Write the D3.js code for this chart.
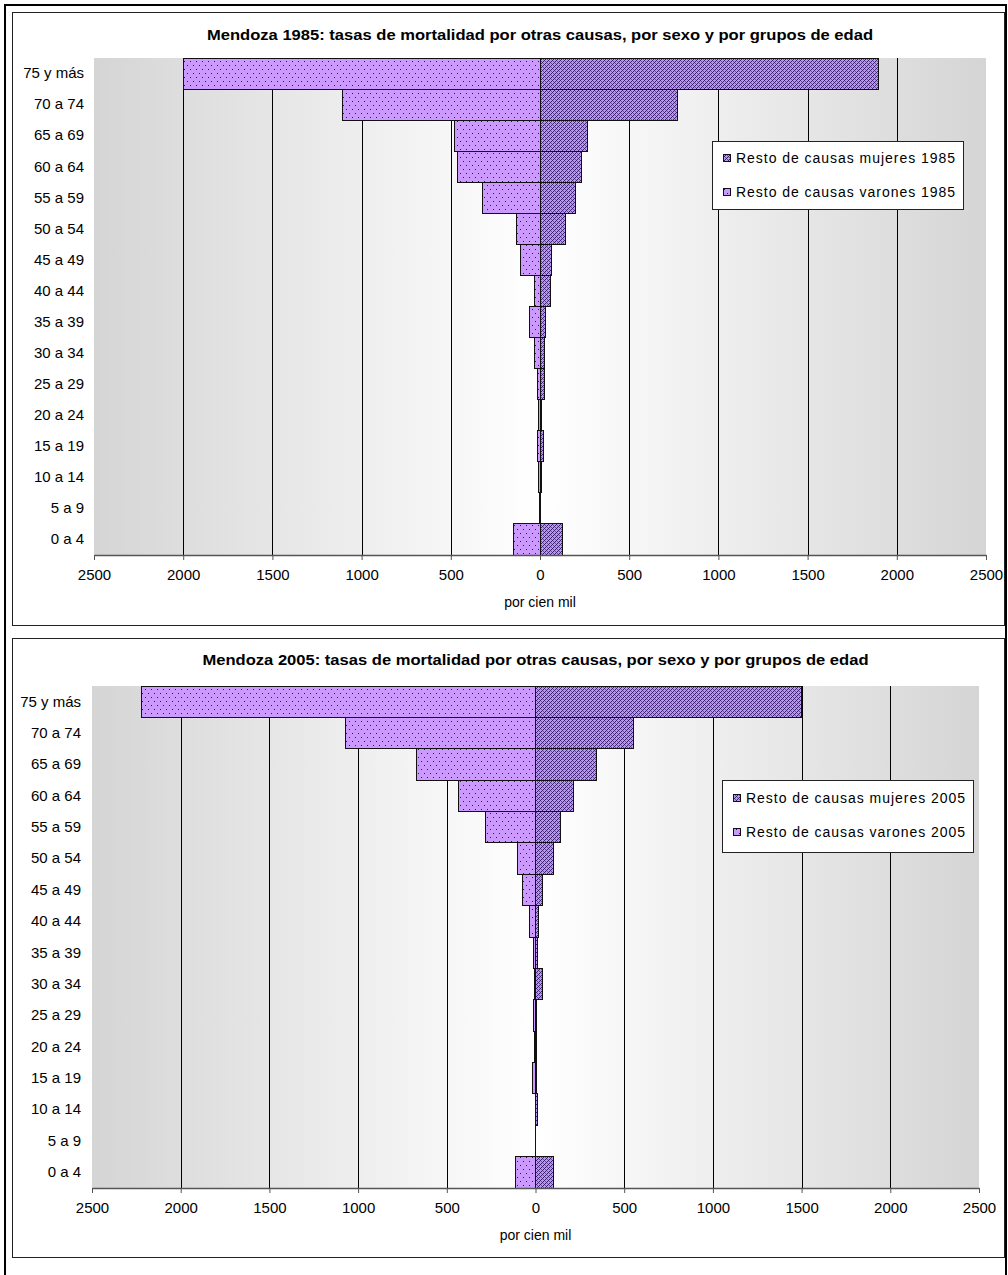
<!DOCTYPE html>
<html><head><meta charset="utf-8">
<script src="https://cdn.jsdelivr.net/npm/d3@7"></script>
<style>body{margin:0;background:#fff;} svg{display:block;}</style>
</head><body>
<script>
// ---------- DATA ----------
const ageGroups = ["75 y más","70 a 74","65 a 69","60 a 64","55 a 59","50 a 54","45 a 49","40 a 44",
                   "35 a 39","30 a 34","25 a 29","20 a 24","15 a 19","10 a 14","5 a 9","0 a 4"];
const varones1985 = [2000,1105,480,465,320,131,109,33,61,29,14,6,16,6,2,149];
const mujeres1985 = [1895,770,265,230,200,145,64,59,31,27,23,6,21,6,2,126];
const varones2005 = [2220,1070,670,435,280,102,75,34,9,5,12,3,15,2,2,115];
const mujeres2005 = [1500,550,345,213,139,101,41,15,12,38,8,3,3,10,2,100];
const tickValues = [-2500,-2000,-1500,-1000,-500,0,500,1000,1500,2000,2500];
const titles = ["Mendoza 1985: tasas de mortalidad por otras causas, por sexo y por grupos de edad",
                "Mendoza 2005: tasas de mortalidad por otras causas, por sexo y por grupos de edad"];
const legendMujeres = ["Resto de causas mujeres 1985","Resto de causas mujeres 2005"];
const legendVarones = ["Resto de causas varones 1985","Resto de causas varones 2005"];
const axisTitle = "por cien mil";

// ---------- SETUP ----------
const W = 1008, H = 1275;
const FONT = "'Liberation Sans', Arial, sans-serif";
const svg = d3.select("body").append("svg").attr("width", W).attr("height", H);
const defs = svg.append("defs");

const grad = defs.append("linearGradient").attr("id","bgGrad").attr("x1","0%").attr("x2","100%").attr("y1","0%").attr("y2","0%");
grad.append("stop").attr("offset","0%").attr("stop-color","#d5d5d5");
grad.append("stop").attr("offset","50%").attr("stop-color","#ffffff");
grad.append("stop").attr("offset","100%").attr("stop-color","#d5d5d5");

// dotted pattern (varones)
const pDot = defs.append("pattern").attr("id","patDot").attr("patternUnits","userSpaceOnUse").attr("width",6).attr("height",8);
pDot.append("rect").attr("width",6).attr("height",8).attr("fill","#cc99ff");
pDot.append("rect").attr("x",1).attr("y",1).attr("width",1).attr("height",1).attr("fill","#2a1a40");
pDot.append("rect").attr("x",4).attr("y",5).attr("width",1).attr("height",1).attr("fill","#2a1a40");

// crosshatch pattern (mujeres)
const pX = defs.append("pattern").attr("id","patX").attr("patternUnits","userSpaceOnUse").attr("width",4).attr("height",4);
pX.append("rect").attr("width",4).attr("height",4).attr("fill","#b995f5");
[[0,0],[2,2],[1,1],[3,3],[3,1],[1,3]].forEach(([a,b]) => {
  pX.append("rect").attr("x",a).attr("y",b).attr("width",1).attr("height",1).attr("fill", (a+b)%4===0 ? "#3a2266" : "#6a4aa0");
});

// outer frame
svg.append("path").attr("d","M5,1275 L5,5 L1006,5 L1006,1275").attr("fill","none").attr("stroke","#000").attr("stroke-width",2);

function drawChart(cfg, varones, mujeres, title, legM, legV) {
  const g = svg.append("g");
  g.append("rect").attr("x",cfg.box[0]+0.5).attr("y",cfg.box[1]+0.5)
    .attr("width",cfg.box[2]-cfg.box[0]).attr("height",cfg.box[3]-cfg.box[1])
    .attr("fill","#fff").attr("stroke","#222").attr("stroke-width",1);

  const x = d3.scaleLinear().domain([-2500,2500]).range([cfg.x0,cfg.x1]);
  const y = d3.scaleBand().domain(ageGroups).range([cfg.y0,cfg.y1]).padding(0);

  g.append("rect").attr("x",cfg.x0).attr("y",cfg.y0).attr("width",cfg.x1-cfg.x0).attr("height",cfg.y1-cfg.y0)
    .attr("fill","url(#bgGrad)");

  g.append("g").selectAll("line").data(tickValues.filter(v => Math.abs(v) !== 2500 && v !== 0)).join("line")
    .attr("x1", d => Math.round(x(d))+0.5).attr("x2", d => Math.round(x(d))+0.5)
    .attr("y1", cfg.y0).attr("y2", cfg.y1).attr("stroke","#000").attr("stroke-width",1);

  const rows = ageGroups.map((a,i) => ({age:a, v:varones[i], m:mujeres[i]}));
  const bars = g.append("g").attr("shape-rendering","crispEdges");
  bars.selectAll("rect.v").data(rows).join("rect").attr("class","v")
    .attr("x", d => x(-d.v)).attr("width", d => x(0)-x(-d.v))
    .attr("y", d => y(d.age)).attr("height", y.bandwidth())
    .attr("fill","url(#patDot)").attr("stroke","#111").attr("stroke-width",1);
  bars.selectAll("rect.m").data(rows).join("rect").attr("class","m")
    .attr("x", x(0)).attr("width", d => x(d.m)-x(0))
    .attr("y", d => y(d.age)).attr("height", y.bandwidth())
    .attr("fill","url(#patX)").attr("stroke","#111").attr("stroke-width",1);

  const ax = g.append("g").attr("transform",`translate(0,${cfg.y1})`)
    .call(d3.axisBottom(x).tickValues(tickValues).tickSize(5).tickSizeOuter(0).tickPadding(9).tickFormat(d => Math.abs(d)));
  ax.select(".domain").attr("stroke","#555").attr("stroke-width",1.5);
  ax.selectAll(".tick line").attr("stroke","#555");
  ax.selectAll("text").attr("font-family",FONT).attr("font-size",15).attr("fill","#000");

  const ay = g.append("g").attr("transform",`translate(${cfg.x0},0)`)
    .call(d3.axisLeft(y).tickSize(0).tickPadding(cfg.labelPad));
  ay.select(".domain").remove();
  ay.selectAll("text").attr("font-family",FONT).attr("font-size",15).attr("fill","#000");

  g.append("text").attr("x",(cfg.x0+cfg.x1)/2).attr("y",cfg.titleY).attr("text-anchor","middle")
    .attr("dominant-baseline","central").attr("font-family",FONT).attr("font-weight","bold").attr("font-size",15)
    .attr("textLength",666).attr("lengthAdjust","spacingAndGlyphs").text(title);

  g.append("text").attr("x",(cfg.x0+cfg.x1)/2).attr("y",cfg.y1+47).attr("text-anchor","middle")
    .attr("dominant-baseline","central").attr("font-family",FONT).attr("font-size",14).text(axisTitle);

  const L = cfg.legend;
  g.append("rect").attr("x",L[0]+0.5).attr("y",L[1]+0.5).attr("width",L[2]-L[0]).attr("height",L[3]-L[1])
    .attr("fill","#fff").attr("stroke","#222");
  [[legM,"url(#patX)",cfg.legY[0]],[legV,"url(#patDot)",cfg.legY[1]]].forEach(([t,f,yy]) => {
    g.append("rect").attr("x",L[0]+11.5).attr("y",yy-3.5).attr("width",7).attr("height",7)
      .attr("fill",f).attr("stroke","#111");
    g.append("text").attr("x",L[0]+24).attr("y",yy).attr("dominant-baseline","central")
      .attr("font-family",FONT).attr("font-size",14).attr("textLength",219).attr("lengthAdjust","spacing").text(t);
  });
}

drawChart({box:[12,12,1004,625], x0:94, x1:986, y0:58, y1:555, titleY:34, labelPad:10,
           legend:[712,141,963,209], legY:[158,192]}, varones1985, mujeres1985, titles[0], legendMujeres[0], legendVarones[0]);
drawChart({box:[12,638,1004,1257], x0:92, x1:979, y0:686, y1:1188, titleY:659, labelPad:11,
           legend:[722,780,973,852], legY:[798,832]}, varones2005, mujeres2005, titles[1], legendMujeres[1], legendVarones[1]);
</script>
</body></html>
